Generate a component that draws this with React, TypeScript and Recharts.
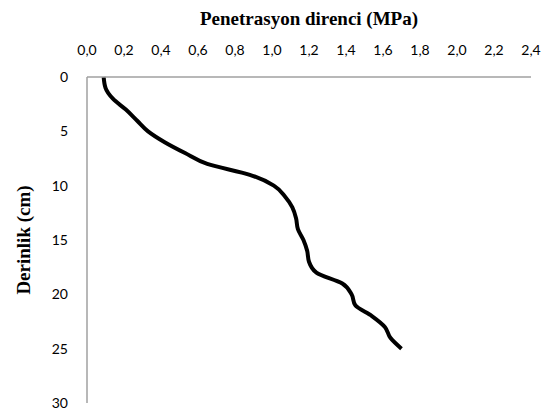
import React from 'react';
import { LineChart, Line, XAxis, YAxis } from 'recharts';

const depths = [0, 1, 2, 3, 4, 5, 6, 7, 8, 9, 10, 11, 12, 13, 14, 15, 16, 17, 18, 19, 20, 21, 22, 23, 24, 25];
const resistance = [0.09, 0.10, 0.14, 0.21, 0.27, 0.33, 0.42, 0.53, 0.65, 0.88, 1.01, 1.07, 1.11, 1.13, 1.14, 1.17, 1.19, 1.20, 1.24, 1.38, 1.43, 1.45, 1.54, 1.61, 1.64, 1.70];
const xTicks = [0, 0.2, 0.4, 0.6, 0.8, 1.0, 1.2, 1.4, 1.6, 1.8, 2.0, 2.2, 2.4];
const yTicks = [0, 5, 10, 15, 20, 25, 30];
const xTitle = 'Penetrasyon direnci (MPa)';
const yTitle = 'Derinlik (cm)';

const data = depths.map((d, i) => ({ depth: d, mpa: resistance[i] }));

const tickStyle = { fontFamily: 'Lato, sans-serif', fontSize: 14, fill: '#000' };
const axisColor = '#a0a0a0';
const serif = "'Liberation Serif', 'Times New Roman', serif";

const XTitle = () => (
  <text x={309} y={25} textAnchor="middle" style={{ fontFamily: serif, fontWeight: 'bold', fontSize: 19, fill: '#000' }}>
    {xTitle}
  </text>
);

const YTitle = () => (
  <text
    x={23}
    y={240}
    transform="rotate(-90, 23, 240)"
    textAnchor="middle"
    dominantBaseline="central"
    style={{ fontFamily: serif, fontWeight: 'bold', fontSize: 19, fill: '#000' }}
  >
    {yTitle}
  </text>
);

export default function App() {
  return (
    <div style={{ position: 'absolute', left: 0, top: 0, width: 552, height: 414, background: '#fff' }}>
      <LineChart
        width={552}
        height={414}
        data={data}
        layout="vertical"
        margin={{ top: 0, right: 21, bottom: 11, left: 0 }}
      >
        <XAxis
          type="number"
          orientation="top"
          domain={[0, 2.4]}
          ticks={xTicks}
          height={77}
          tickLine={false}
          tickSize={0}
          tickMargin={22}
          axisLine={{ stroke: axisColor, strokeWidth: 1.5 }}
          tick={tickStyle}
          tickFormatter={(v: number) => v.toFixed(1).replace('.', ',')}
          interval={0}
          label={{ content: () => <XTitle /> }}
        />
        <YAxis
          type="number"
          dataKey="depth"
          domain={[0, 30]}
          ticks={yTicks}
          width={87}
          tickLine={false}
          tickSize={0}
          tickMargin={19}
          axisLine={{ stroke: axisColor, strokeWidth: 1.5 }}
          tick={tickStyle}
          interval={0}
          label={{ content: () => <YTitle /> }}
        />
        <Line
          type="monotone"
          dataKey="mpa"
          stroke="#000"
          strokeWidth={4}
          dot={false}
          isAnimationActive={false}
        />
      </LineChart>
    </div>
  );
}
